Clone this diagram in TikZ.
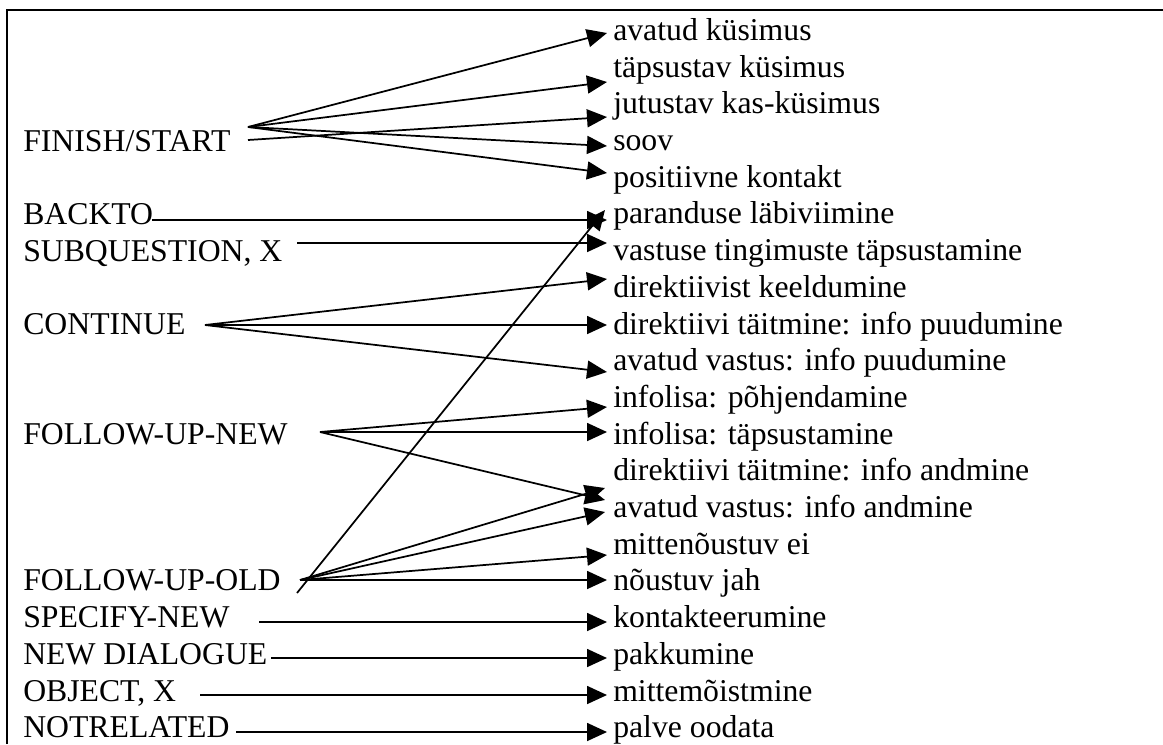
\documentclass[tikz,border=0pt]{standalone}
\usepackage{fontspec}
\setmainfont{Liberation Serif}
\usetikzlibrary{arrows.meta}

\begin{document}
\begin{tikzpicture}[x=0.75pt, y=-0.75pt,
  lbl/.style={anchor=base west, inner sep=0pt, font=\fontsize{23.8}{28}\selectfont},
  arr/.style={line width=1.3pt, -{Triangle[length=15pt, width=13.5pt]}}]
\useasboundingbox (0,0) rectangle (1163,744);
\draw[line width=1.9pt] (7,744) -- (7,10) -- (1163,10);
\node[lbl] (finish) at (23,151) {FINISH/START};
\node[lbl] (backto) at (23,224) {BACKTO};
\node[lbl] (subq) at (23,261) {SUBQUESTION, X};
\node[lbl] (cont) at (23,334) {CONTINUE};
\node[lbl] (funew) at (23,444) {FOLLOW-UP-NEW};
\node[lbl] (fuold) at (23,590) {FOLLOW-UP-OLD};
\node[lbl] (specnew) at (23,627) {SPECIFY-NEW};
\node[lbl] (newdlg) at (23,664) {NEW DIALOGUE};
\node[lbl] (object) at (23,701) {OBJECT, X};
\node[lbl] (notrel) at (23,737) {NOTRELATED};
\node[lbl] (avkys) at (613,40) {avatud küsimus};
\node[lbl] (tpkys) at (613,77) {täpsustav küsimus};
\node[lbl] (jutkys) at (613,113) {jutustav kas-küsimus};
\node[lbl] (soov) at (613,150) {soov};
\node[lbl] (poskon) at (613,187) {positiivne kontakt};
\node[lbl] (paran) at (613,223) {paranduse läbiviimine};
\node[lbl] (vastin) at (613,260) {vastuse tingimuste täpsustamine};
\node[lbl] (dirkeel) at (613,297) {direktiivist keeldumine};
\node[lbl] (dirpuud) at (613,334) {direktiivi täitmine: info puudumine};
\node[lbl] (avpuud) at (613,370) {avatud vastus: info puudumine};
\node[lbl] (ilpohj) at (613,407) {infolisa: põhjendamine};
\node[lbl] (iltaps) at (613,444) {infolisa: täpsustamine};
\node[lbl] (dirand) at (613,480) {direktiivi täitmine: info andmine};
\node[lbl] (avand) at (613,517) {avatud vastus: info andmine};
\node[lbl] (mitnou) at (613,554) {mittenõustuv ei};
\node[lbl] (nouja) at (613,590) {nõustuv jah};
\node[lbl] (kontakt) at (613,627) {kontakteerumine};
\node[lbl] (pakk) at (613,664) {pakkumine};
\node[lbl] (mitmoi) at (613,701) {mittemõistmine};
\node[lbl] (palve) at (613,737) {palve oodata};
\coordinate (finish-a) at (248,127);
\coordinate (finish-b) at (248,140);
\coordinate (backto-o) at (152,220);
\coordinate (subq-o) at (297,243);
\coordinate (cont-o) at (205,325);
\coordinate (funew-o) at (320,432);
\coordinate (fuold-a) at (300,580);
\coordinate (fuold-b) at (297,593);
\coordinate (specnew-o) at (259,622);
\coordinate (newdlg-o) at (271,658);
\coordinate (object-o) at (200,695);
\coordinate (notrel-o) at (236,732);
\coordinate (avkys-i) at (607,33);
\coordinate (tpkys-i) at (607,82);
\coordinate (jutkys-i) at (607,117);
\coordinate (soov-i) at (607,146);
\coordinate (poskon-i) at (607,173);
\coordinate (paran-i) at (607,220);
\coordinate (paran-j) at (605,210);
\coordinate (vastin-i) at (607,243);
\coordinate (dirkeel-i) at (607,279);
\coordinate (dirpuud-i) at (607,325);
\coordinate (avpuud-i) at (607,372);
\coordinate (ilpohj-i) at (607,407);
\coordinate (iltaps-i) at (607,432);
\coordinate (avand-i) at (605,488);
\coordinate (avand-j) at (605,500);
\coordinate (avand-k) at (605,512);
\coordinate (mitnou-i) at (607,555);
\coordinate (nouja-i) at (607,580);
\coordinate (kontakt-i) at (607,622);
\coordinate (pakk-i) at (607,658);
\coordinate (mitmoi-i) at (607,695);
\coordinate (palve-i) at (607,732);
\draw[arr] (finish-a) -- (avkys-i);
\draw[arr] (finish-a) -- (tpkys-i);
\draw[arr] (finish-b) -- (jutkys-i);
\draw[arr] (finish-a) -- (soov-i);
\draw[arr] (finish-a) -- (poskon-i);
\draw[arr] (backto-o) -- (paran-i);
\draw[arr] (subq-o) -- (vastin-i);
\draw[arr] (cont-o) -- (dirkeel-i);
\draw[arr] (cont-o) -- (dirpuud-i);
\draw[arr] (cont-o) -- (avpuud-i);
\draw[arr] (funew-o) -- (ilpohj-i);
\draw[arr] (funew-o) -- (iltaps-i);
\draw[arr] (funew-o) -- (avand-j);
\draw[arr] (fuold-b) -- (paran-j);
\draw[arr] (fuold-a) -- (avand-i);
\draw[arr] (fuold-a) -- (avand-k);
\draw[arr] (fuold-a) -- (mitnou-i);
\draw[arr] (fuold-a) -- (nouja-i);
\draw[arr] (specnew-o) -- (kontakt-i);
\draw[arr] (newdlg-o) -- (pakk-i);
\draw[arr] (object-o) -- (mitmoi-i);
\draw[arr] (notrel-o) -- (palve-i);
\end{tikzpicture}
\end{document}
